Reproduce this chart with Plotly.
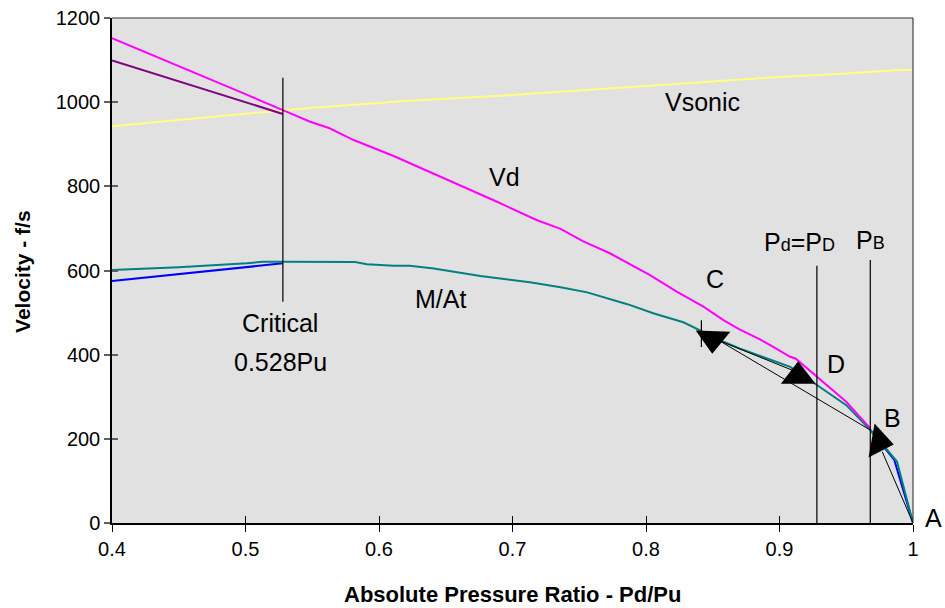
import plotly.graph_objects as go

# Pressure ratio grid and curves (velocity in ft/s)
vsonic_ratio = [0.40, 0.45, 0.50, 0.528, 0.55, 0.60, 0.616, 0.65, 0.70, 0.75, 0.80, 0.85, 0.866, 0.90, 0.95, 0.986, 1.00]
vsonic_vel = [943, 958, 973, 981, 987, 998, 1002, 1008, 1017, 1028, 1039, 1049, 1053, 1060, 1068, 1076, 1077]

vd_ratio = [0.40, 0.45, 0.50, 0.528, 0.548, 0.563, 0.581, 0.611, 0.626, 0.658, 0.688, 0.718, 0.736,
            0.753, 0.773, 0.803, 0.823, 0.843, 0.858, 0.870, 0.885, 0.895, 0.908, 0.912, 0.928, 0.950, 0.968]
vd_vel = [1152, 1086, 1019, 981, 954, 938, 910, 872, 851, 807, 764, 720, 699,
          669, 641, 589, 550, 514, 482, 460, 437, 419, 395, 391, 348, 288, 225]

mat_ratio = [0.40, 0.45, 0.501, 0.513, 0.528, 0.582, 0.591, 0.611, 0.623, 0.641, 0.676, 0.691, 0.713, 0.736,
             0.756, 0.786, 0.806, 0.828, 0.840, 0.855, 0.870, 0.888, 0.908, 0.928, 0.950, 0.968, 0.988, 1.00]
mat_vel = [601, 608, 617, 621, 621, 620, 615, 611, 611, 605, 587, 581, 572, 560,
           548, 520, 498, 477, 459, 435, 415, 395, 371, 328, 280, 221, 146, 0]

flow_ratio = [0.40, 0.528, None, 0.968, 0.986, 1.00]
flow_vel = [575, 617, None, 221, 150, 0]

vd_ext_ratio = [0.40, 0.528]
vd_ext_vel = [1099, 972]

# Reference pressure ratios and the vertical extent of their guide lines
critical_ratio = 0.528
critical_span = [526, 1058]
pd_ratio = 0.928
pd_span = [0, 611]
pb_ratio = 0.968
pb_span = [0, 625]
c_tick_ratio = 0.8415
c_tick_span = [418, 482]

# Operating-path segments between the states C, D, B and A
path_ratio = [0.855, 0.968, None, 0.855, 0.912, None, 0.977, 1.00]
path_vel = [433, 221, None, 433, 360, None, 169, 0]

# Arrowheads: ratio, velocity, symbol, rotation
head_ratio = [0.850, 0.914, 0.9745]
head_vel = [438, 349, 193]
head_symbol = ["triangle-down", "triangle-up", "triangle-right"]
head_angle = [2, 0, 10]

x_ticks = [0.4, 0.5, 0.6, 0.7, 0.8, 0.9, 1.0]
x_tick_text = ["0.4", "0.5", "0.6", "0.7", "0.8", "0.9", "1"]
y_ticks = [0, 200, 400, 600, 800, 1000, 1200]

FONT = "Arial, Liberation Sans, sans-serif"

fig = go.Figure()

fig.add_trace(go.Scatter(x=flow_ratio, y=flow_vel, mode="lines",
                         line=dict(color="#0000FF", width=2), connectgaps=False))
fig.add_trace(go.Scatter(x=mat_ratio, y=mat_vel, mode="lines",
                         line=dict(color="#008080", width=2)))
fig.add_trace(go.Scatter(x=vsonic_ratio, y=vsonic_vel, mode="lines",
                         line=dict(color="#FFFF80", width=2)))
fig.add_trace(go.Scatter(x=vd_ext_ratio, y=vd_ext_vel, mode="lines",
                         line=dict(color="#800080", width=2)))
fig.add_trace(go.Scatter(x=vd_ratio, y=vd_vel, mode="lines",
                         line=dict(color="#FF00FF", width=2)))

# Guide lines
for r, span in [(critical_ratio, critical_span), (pd_ratio, pd_span),
                (pb_ratio, pb_span), (c_tick_ratio, c_tick_span)]:
    fig.add_trace(go.Scatter(x=[r, r], y=span, mode="lines",
                             line=dict(color="black", width=1.2)))

fig.add_trace(go.Scatter(x=path_ratio, y=path_vel, mode="lines",
                         line=dict(color="black", width=1), connectgaps=False))
fig.add_trace(go.Scatter(x=head_ratio, y=head_vel, mode="markers",
                         marker=dict(symbol=head_symbol, angle=head_angle, size=30,
                                     color="black", line=dict(width=0))))

# Dummy trace so the secondary axes (inner half of the crossing ticks) are drawn
fig.add_trace(go.Scatter(x=[None], y=[None], xaxis="x2", yaxis="y2"))

ann_font = dict(family=FONT, size=25, color="black")
small = "<span style='font-size:18px'>"
labels = [
    ("Vsonic", 0.842, 1000),
    ("Vd", 0.694, 822),
    ("M/At", 0.646, 532),
    ("Critical", 0.526, 475),
    ("0.528Pu", 0.526, 383),
    ("C", 0.852, 580),
    ("D", 0.942, 378),
    ("B", 0.985, 250),
    ("P" + small + "d</span>=P" + small + "D</span>", 0.915, 668),
    ("P" + small + "B</span>", 0.9685, 672),
]
annotations = [dict(text=t, x=x, y=y, xref="x", yref="y", showarrow=False,
                    font=ann_font, xanchor="center", yanchor="middle") for t, x, y in labels]
annotations.append(dict(text="A", x=1.025, y=0.01, xref="paper", yref="paper",
                        showarrow=False, font=ann_font, xanchor="center", yanchor="middle"))

# Axis titles
title_font = dict(family=FONT, size=22, color="black")
annotations.append(dict(text="<b>Absolute Pressure Ratio - Pd/Pu</b>", x=0.5, y=-0.1406,
                        xref="paper", yref="paper", showarrow=False, font=title_font,
                        xanchor="center", yanchor="middle"))
annotations.append(dict(text="<b>Velocity - f/s</b>", x=-0.1124, y=0.499,
                        xref="paper", yref="paper", showarrow=False, textangle=-90,
                        font=dict(family=FONT, size=21, color="black"),
                        xanchor="center", yanchor="middle"))

fig.update_layout(
    width=945, height=608,
    margin=dict(l=112, r=32, t=18, b=85),
    paper_bgcolor="white",
    plot_bgcolor="#E1E1E1",
    showlegend=False,
    font=dict(family=FONT, size=20, color="black"),
    annotations=annotations,
    xaxis=dict(range=[0.4, 1.0], tickvals=x_ticks, ticktext=x_tick_text, automargin=False,
               showgrid=False, zeroline=False, showline=True, linecolor="black", linewidth=1.5,
               ticks="outside", ticklen=7, tickcolor="black", tickwidth=1,
               tickfont=dict(family=FONT, size=20)),
    yaxis=dict(range=[0, 1200], tickvals=y_ticks, automargin=False,
               showgrid=False, zeroline=False, showline=True, linecolor="black", linewidth=1.5,
               ticks="outside", ticklen=6, tickcolor="#606060", tickwidth=1.5,
               tickfont=dict(family=FONT, size=20)),
    xaxis2=dict(range=[0.4, 1.0], tickvals=x_ticks, overlaying="x", anchor="y",
                side="bottom", showticklabels=False, showgrid=False, zeroline=False,
                ticks="inside", ticklen=7, tickcolor="black", tickwidth=1),
    yaxis2=dict(range=[0, 1200], tickvals=y_ticks, overlaying="y", anchor="x",
                side="left", showticklabels=False, showgrid=False, zeroline=False,
                ticks="inside", ticklen=6, tickcolor="#606060", tickwidth=1.5),
    shapes=[
        dict(type="line", xref="paper", yref="paper", x0=0, x1=1, y0=1, y1=1,
             line=dict(color="#707070", width=1.5)),
        dict(type="line", xref="paper", yref="paper", x0=1, x1=1, y0=0, y1=1,
             line=dict(color="#202020", width=1)),
    ],
)

fig.write_html("out.html")
